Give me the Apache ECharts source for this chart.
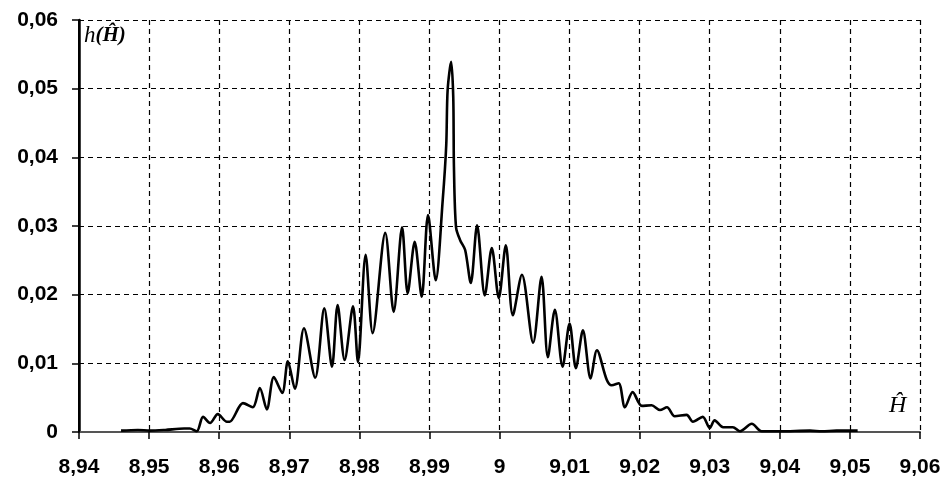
<!DOCTYPE html>
<html>
<head>
<meta charset="utf-8">
<script src="https://cdn.jsdelivr.net/npm/echarts@6/dist/echarts.min.js"></script>
<style>html,body{margin:0;padding:0;background:#fff}#c{width:947px;height:483px}</style>
</head>
<body>
<div id="c"></div>
<script>
const xValues = [8.9460,8.9484,8.9501,8.9523,8.9550,8.9558,8.9568,8.9577,8.9587,8.9598,8.9611,8.9615,8.9634,8.9648,8.9658,8.9668,8.9678,8.9690,8.9698,8.9708,8.9721,8.9737,8.9750,8.9761,8.9769,8.9779,8.9791,8.9798,8.9809,8.9819,8.9837,8.9849,8.9861,8.9869,8.9879,8.9889,8.9898,8.9909,8.9919,8.9924,8.9926,8.9931,8.9934,8.9935,8.9938,8.9944,8.9951,8.9959,8.9968,8.9979,8.9989,8.9999,9.0009,9.0019,9.0032,9.0048,9.0060,9.0069,9.0079,9.0090,9.0100,9.0109,9.0119,9.0130,9.0139,9.0153,9.0160,9.0170,9.0179,9.0190,9.0203,9.0217,9.0229,9.0239,9.0250,9.0267,9.0276,9.0290,9.0300,9.0307,9.0319,9.0333,9.0343,9.0360,9.0374,9.0400,9.0443,9.0460,9.0481,9.0500,9.0511];
const yValues = [0.0002,0.0003,0.0002,0.0003,0.0005,0.0005,0.0001,0.0022,0.0013,0.0026,0.0015,0.0015,0.0042,0.0036,0.0064,0.0033,0.0080,0.0057,0.0103,0.0063,0.0151,0.0079,0.0180,0.0095,0.0185,0.0105,0.0183,0.0102,0.0258,0.0144,0.0290,0.0175,0.0298,0.0202,0.0277,0.0197,0.0316,0.0221,0.0338,0.0418,0.0498,0.0539,0.0488,0.0386,0.0298,0.0279,0.0265,0.0217,0.0301,0.0199,0.0268,0.0195,0.0272,0.0170,0.0229,0.0130,0.0226,0.0109,0.0178,0.0095,0.0158,0.0093,0.0148,0.0078,0.0119,0.0076,0.0068,0.0071,0.0036,0.0058,0.0038,0.0039,0.0032,0.0036,0.0023,0.0025,0.0015,0.0022,0.0006,0.0017,0.0007,0.0007,0.0001,0.0012,0.0001,0.0001,0.0002,0.0001,0.0002,0.0002,0.0002];
const xTickLabels = ['8,94','8,95','8,96','8,97','8,98','8,99','9','9,01','9,02','9,03','9,04','9,05','9,06'];
const yTickLabels = ['0','0,01','0,02','0,03','0,04','0,05','0,06'];

const chart = echarts.init(document.getElementById('c'));
const labelFont = {fontFamily:'Liberation Sans', fontWeight:'bold', fontSize:21, color:'#000'};
const dashed = {show:true, lineStyle:{color:'#000', width:1.2, type:[5,4]}};
chart.setOption({
  animation:false,
  grid:{left:79, right:27, top:20, bottom:51},
  xAxis:{
    type:'value', min:8.94, max:9.06, interval:0.01,
    axisLine:{show:true, onZero:false, lineStyle:{color:'#555', width:2}},
    axisTick:{show:true, length:7, lineStyle:{color:'#000', width:1.5}},
    axisLabel:Object.assign({margin:25, formatter:v=>xTickLabels[Math.round((v-8.94)/0.01)]}, labelFont),
    splitLine:Object.assign({showMinLine:false}, dashed)
  },
  yAxis:{
    type:'value', min:0, max:0.06, interval:0.01, position:'left',
    axisLine:{show:true, onZero:false, lineStyle:{color:'#000', width:2.5, type:'solid'}},
    axisTick:{show:true, inside:false, length:7, lineStyle:{color:'#000', width:1.5}},
    axisLabel:Object.assign({margin:21, formatter:v=>yTickLabels[Math.round(v/0.01)]}, labelFont),
    splitLine:Object.assign({showMinLine:false}, dashed)
  },
  series:[{
    type:'line', showSymbol:false, smooth:0.3,
    data:xValues.map((x,i)=>[x,yValues[i]]),
    lineStyle:{color:'#000', width:2.6},
    markLine:{silent:true, symbol:'none', label:{show:false}, lineStyle:{color:'#000', width:2, type:'solid'}, data:[{xAxis:8.94}]}
  }],
  graphic:[
    {type:'text', left:84, top:24, style:{rich:{a:{fontFamily:'Liberation Serif', fontStyle:'italic', fontSize:23, fill:'#000'}, b:{fontFamily:'Liberation Serif', fontStyle:'italic', fontWeight:'bold', fontSize:21, fill:'#000'}}, text:'{a|h}{b|(Ĥ)}'}},
    {type:'text', left:889, top:394, style:{text:'Ĥ', fontFamily:'Liberation Serif', fontStyle:'italic', fontSize:24, fill:'#000'}}
  ]
});
</script>
</body>
</html>
